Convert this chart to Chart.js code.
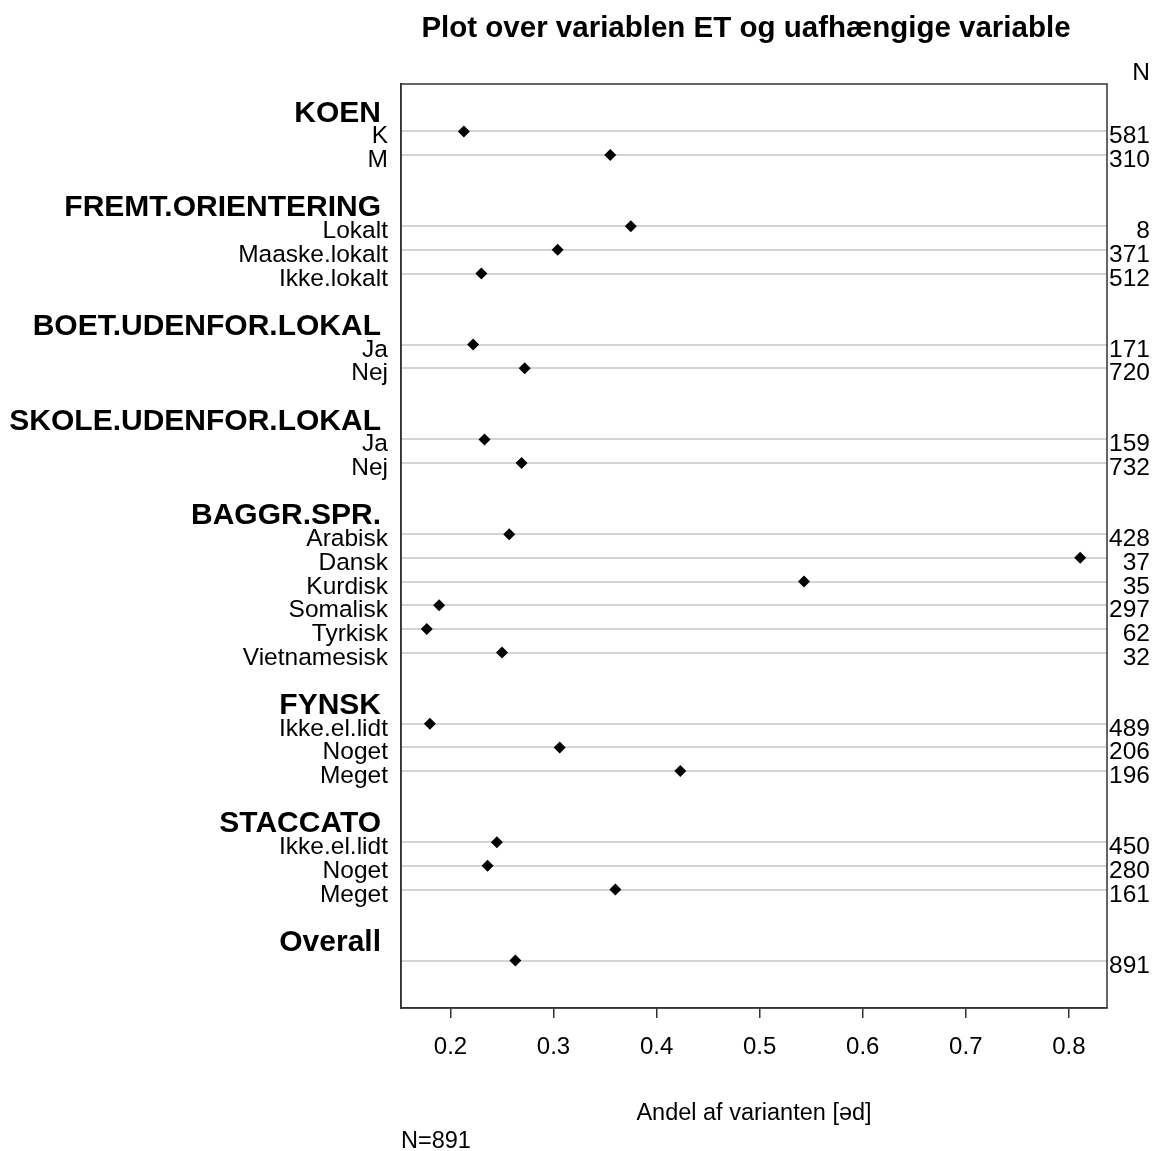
<!DOCTYPE html>
<html>
<head>
<meta charset="utf-8">
<script src="https://cdn.jsdelivr.net/npm/chart.js@4/dist/chart.umd.min.js"></script>
<style>
  html, body { margin: 0; padding: 0; background: #fff; }
  canvas { display: block; }
</style>
</head>
<body>
<canvas id="dot" width="1158" height="1151"></canvas>
<script>
// Groups of independent variables and how many levels each one has
const groups = ['KOEN', 'FREMT.ORIENTERING', 'BOET.UDENFOR.LOKAL', 'SKOLE.UDENFOR.LOKAL',
                'BAGGR.SPR.', 'FYNSK', 'STACCATO', 'Overall'];
const groupSizes = [2, 3, 2, 2, 6, 3, 3, 1];

// Level labels, in drawing order (top to bottom)
const categories = ['K', 'M',
                    'Lokalt', 'Maaske.lokalt', 'Ikke.lokalt',
                    'Ja', 'Nej',
                    'Ja', 'Nej',
                    'Arabisk', 'Dansk', 'Kurdisk', 'Somalisk', 'Tyrkisk', 'Vietnamesisk',
                    'Ikke.el.lidt', 'Noget', 'Meget',
                    'Ikke.el.lidt', 'Noget', 'Meget',
                    ''];

// Share of the variant [əd] per level
const shares = [0.213, 0.355,
                0.375, 0.304, 0.230,
                0.222, 0.272,
                0.233, 0.269,
                0.257, 0.811, 0.543, 0.189, 0.177, 0.250,
                0.180, 0.306, 0.423,
                0.245, 0.236, 0.360,
                0.263];

// Number of speakers per level
const counts = [581, 310,
                8, 371, 512,
                171, 720,
                159, 732,
                428, 37, 35, 297, 62, 32,
                489, 206, 196,
                450, 280, 161,
                891];

const xTicks = [0.2, 0.3, 0.4, 0.5, 0.6, 0.7, 0.8];

// Row layout: one header line per group, a blank line between groups
const headerRows = [];
const levelRows = [];
(function () {
  let r = 1;
  groupSizes.forEach((n) => {
    headerRows.push(r);
    r++;
    for (let i = 0; i < n; i++) { levelRows.push(r); r++; }
    r++; // blank line
  });
})();
const lastRow = levelRows[levelRows.length - 1];

const FONT = '"Liberation Sans", Arial, Helvetica, sans-serif';
const TEXT = '#000';

const textPlugin = {
  id: 'dotText',
  afterDraw(chart) {
    const ctx = chart.ctx;
    const y = chart.scales.y;
    const a = chart.chartArea;
    ctx.save();

    // plot frame
    ctx.strokeStyle = '#333';
    ctx.lineWidth = 1.5;
    ctx.strokeRect(a.left, a.top, a.right - a.left, a.bottom - a.top);

    ctx.fillStyle = TEXT;
    ctx.textBaseline = 'alphabetic';

    // group headers
    ctx.font = 'bold 30px ' + FONT;
    ctx.textAlign = 'right';
    groups.forEach((g, i) => {
      ctx.fillText(g, a.left - 20, y.getPixelForValue(headerRows[i]) + 14);
    });

    // level labels
    ctx.font = '24.5px ' + FONT;
    categories.forEach((c, i) => {
      ctx.fillText(c, a.left - 13, y.getPixelForValue(levelRows[i]) + 12);
    });

    // counts on the right margin
    counts.forEach((n, i) => {
      ctx.fillText(String(n), 1150, y.getPixelForValue(levelRows[i]) + 12);
    });
    ctx.fillText('N', 1150, 80);

    // title
    ctx.font = 'bold 29.5px ' + FONT;
    ctx.textAlign = 'center';
    ctx.fillText('Plot over variablen ET og uafhængige variable', 746, 37);

    // axis title and footnote
    ctx.font = '23.5px ' + FONT;
    ctx.fillText('Andel af varianten [əd]', (a.left + a.right) / 2, 1120);
    ctx.textAlign = 'left';
    ctx.fillText('N=891', a.left, 1148);

    ctx.restore();
  }
};

new Chart(document.getElementById('dot'), {
  type: 'scatter',
  data: {
    datasets: [{
      data: shares.map((v, i) => ({ x: v, y: levelRows[i] })),
      pointStyle: 'rectRot',
      pointRadius: 6,
      pointBorderWidth: 0,
      backgroundColor: '#000',
      borderColor: '#000'
    }]
  },
  options: {
    responsive: false,
    animation: false,
    devicePixelRatio: 1,
    layout: { padding: { top: 84, right: 51, left: 0, bottom: 0 } },
    plugins: { legend: { display: false }, tooltip: { enabled: false }, title: { display: false } },
    scales: {
      x: {
        type: 'linear',
        min: 0.152,
        max: 0.837,
        afterBuildTicks(scale) { scale.ticks = xTicks.map(v => ({ value: v })); },
        afterFit(scale) { scale.height = 143; },
        ticks: {
          font: { family: FONT, size: 24 },
          color: TEXT,
          padding: 15,
          callback: v => String(v)
        },
        grid: { drawOnChartArea: false, drawTicks: true, tickLength: 10, color: '#333', lineWidth: 1.5 },
        border: { display: true, color: '#333', width: 1.5 }
      },
      y: {
        type: 'linear',
        reverse: true,
        min: 0,
        max: lastRow + 2,
        afterBuildTicks(scale) { scale.ticks = levelRows.map(v => ({ value: v })); },
        afterFit(scale) { scale.width = 401; },
        ticks: { display: false },
        grid: { color: '#d4d4d4', lineWidth: 2, drawTicks: false },
        border: { display: true, color: '#333', width: 1.5 }
      }
    }
  },
  plugins: [textPlugin]
});
</script>
</body>
</html>
